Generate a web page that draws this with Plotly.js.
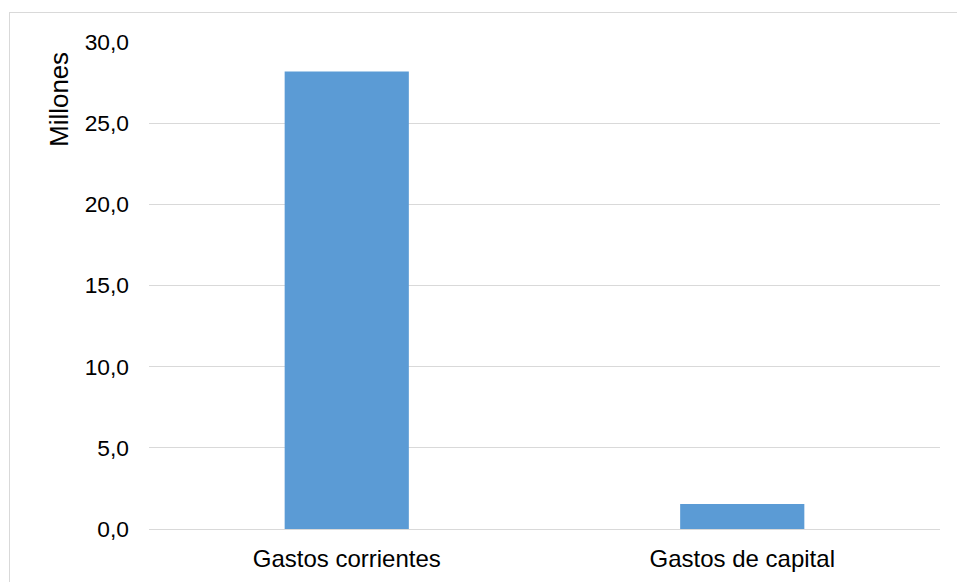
<!DOCTYPE html>
<html>
<head>
<meta charset="utf-8">
<script src="https://cdn.plot.ly/plotly-3.0.1.min.js"></script>
<style>
  html, body { margin: 0; padding: 0; background: #ffffff; overflow: hidden; }
  #frame { position: absolute; left: 9px; top: 12px; width: 1100px; height: 700px; border: 1.3px solid #d9d9d9; }
  #chart { position: absolute; left: 0; top: 0; width: 957px; height: 582px; }
</style>
</head>
<body>
<div id="frame"></div>
<div id="chart"></div>
<script>
const categories = ["Gastos corrientes", "Gastos de capital"];
const values = [28.18, 1.54];
const yTickValues = [0, 5, 10, 15, 20, 25, 30];
const yTitle = "Millones";

const trace = {
  type: "bar",
  x: categories,
  y: values,
  marker: { color: "#5b9bd5" },
  hoverinfo: "x+y"
};

const layout = {
  width: 957,
  height: 582,
  paper_bgcolor: "rgba(0,0,0,0)",
  plot_bgcolor: "rgba(0,0,0,0)",
  margin: { l: 149, r: 17, t: 42, b: 53 },
  separators: ", ",
  bargap: 0.686,
  showlegend: false,
  font: { family: "Liberation Sans, Arial, sans-serif", color: "#000000" },
  xaxis: {
    type: "category",
    showgrid: false,
    showline: true,
    linecolor: "#d9d9d9",
    linewidth: 1.3,
    ticks: "",
    tickfont: { size: 24, color: "#000000" },
    ticklabelstandoff: 8
  },
  yaxis: {
    range: [0, 30],
    tickvals: yTickValues,
    tickformat: ".1f",
    showgrid: true,
    gridcolor: "#d9d9d9",
    gridwidth: 1.3,
    zeroline: false,
    showline: false,
    ticks: "",
    tickfont: { size: 22.8, color: "#000000" },
    ticklabelstandoff: 19
  },
  annotations: [{
    text: yTitle,
    textangle: -90,
    xref: "paper", yref: "paper",
    x: (59.2 - 149) / 791, y: (529.3 - 99.2) / 487.6,
    xanchor: "center", yanchor: "middle",
    showarrow: false,
    font: { size: 25.8, color: "#000000" }
  }]
};

Plotly.newPlot("chart", [trace], layout, { displayModeBar: false, staticPlot: true });
</script>
</body>
</html>
